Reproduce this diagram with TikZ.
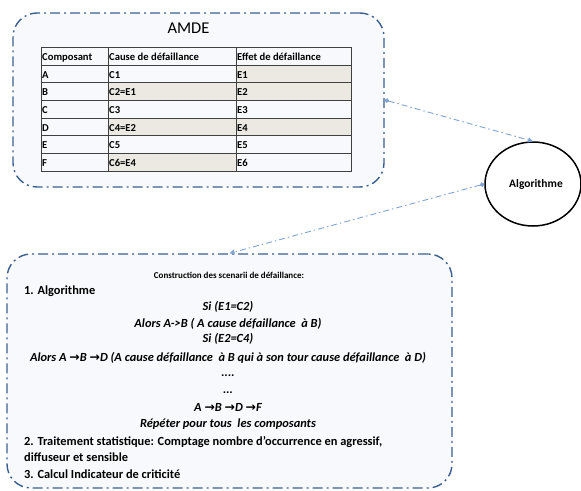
\documentclass[tikz,border=0pt]{standalone}
\usepackage{fontspec}
\setmainfont{Carlito}
\newfontfamily\dejavu{DejaVu Sans}
\usetikzlibrary{arrows.meta,shapes.geometric}
\definecolor{boxline}{HTML}{3A5F8F}
\definecolor{boxfill}{HTML}{F8F9FC}
\definecolor{conn}{HTML}{7EA3D3}
\definecolor{cellgray}{HTML}{ECE9E2}
\definecolor{gridc}{HTML}{404040}
\newcommand{\arr}{{\dejavu\bfseries\symbol{"2192}}}
\begin{document}
\begin{tikzpicture}[x=1pt,y=-1pt,
  panel/.style={draw=boxline, fill=boxfill, line width=1.4pt, rounded corners=24pt,
    dash pattern=on 10pt off 4pt on 2pt off 4pt, inner sep=0},
  link/.style={draw=conn, line width=0.9pt, dash pattern=on 6pt off 3pt on 1.5pt off 3pt,
    {Circle[length=4.5pt,width=4.5pt,fill=conn]}-{Triangle[length=5pt,width=5pt]}},
  cell/.style={anchor=base west, inner sep=0, font=\fontsize{10.6}{12}\selectfont\bfseries},
  hdr/.style={cell},
  ctr/.style={anchor=base, inner sep=0, font=\fontsize{12.4}{14}\selectfont\bfseries\itshape},
  lft/.style={anchor=base west, inner sep=0, font=\fontsize{12.4}{14}\selectfont\bfseries},
  tline/.style={draw=gridc, line width=0.8pt}
]
\useasboundingbox (0,0) rectangle (581,490);

% panels
\node[panel, minimum width=371pt, minimum height=174pt] (amde) at (198.5,100) {};
\node[panel, minimum width=445pt, minimum height=234pt] (scen) at (229.5,371) {};

% AMDE title
\node[inner sep=0, font=\fontsize{16.5}{18}\selectfont] (title) at (188.5,28) {AMDE};

% table shading
\fill[cellgray] (236,65) rectangle (351,82.7);
\fill[cellgray] (108,82.7) rectangle (351,100.3);
\fill[cellgray] (108,118) rectangle (351,135.7);
\fill[cellgray] (108,153.3) rectangle (236,171);

% table grid
\draw[tline] (41,47) rectangle (351,171);
\foreach \x in {108,236} \draw[tline] (\x,47) -- (\x,171);
\foreach \y in {65,82.7,100.3,118,135.7,153.3} \draw[tline] (41,\y) -- (351,\y);

% header
\node[hdr] (h1) at (42,60.5) {Composant};
\node[hdr] (h2) at (109,60.5) {Cause de défaillance};
\node[hdr] (h3) at (237,60.5) {Effet de défaillance};

% rows
\foreach \i/\a/\b/\c in {1/A/C1/E1, 2/B/C2=E1/E2, 3/C/C3/E3, 4/D/C4=E2/E4, 5/E/C5/E5, 6/F/C6=E4/E6}{
  \pgfmathsetmacro{\yb}{65+(\i-1)*17.67+13.2}
  \node[cell] (r\i a) at (42,\yb) {\a};
  \node[cell] (r\i b) at (109,\yb) {\b};
  \node[cell] (r\i c) at (237,\yb) {\c};
}

% ellipse
\node[draw=black, line width=1.5pt, fill=white, ellipse, minimum width=96pt, minimum height=84pt,
  inner sep=0] (algo) at (533,184) {};
\node[inner sep=0, font=\fontsize{11.5}{13}\selectfont\bfseries] (algotxt) at (536,184) {Algorithme};

% connectors
\draw[link] (amde.east) -- (algo.north);
\draw[link] (algo.west) -- (scen.north);

% lower box text
\node[anchor=base, inner sep=0, font=\fontsize{9}{11}\selectfont\bfseries] (cons) at (229,278) {Construction des scenarii de défaillance:};
\node[lft] (l1) at (24,294.5) {1. Algorithme};
\node[ctr] (s1) at (228,310.5) {Si (E1=C2)};
\node[ctr] (s2) at (228,327) {Alors A->B ( A cause défaillance\ \ à B)};
\node[ctr] (s3) at (228,342.5) {Si (E2=C4)};
\node[ctr] (s4) at (228,361) {Alors A \arr B \arr D (A cause défaillance\ \ à B qui à son tour cause défaillance\ \ à D)};
\node[ctr] (s5) at (228,376) {....};
\node[ctr] (s6) at (228,393) {...};
\node[ctr] (s7) at (228,411.5) {A \arr B \arr D \arr F};
\node[ctr] (s8) at (228,427.5) {Répéter pour tous\ \ les composants};
\node[lft] (l2) at (24,445.5) {2. Traitement statistique: Comptage nombre d’occurrence en agressif,};
\node[lft] (l3) at (24,461.5) {diffuseur et sensible};
\node[lft] (l4) at (24,478.5) {3. Calcul Indicateur de criticité};
\end{tikzpicture}
\end{document}
